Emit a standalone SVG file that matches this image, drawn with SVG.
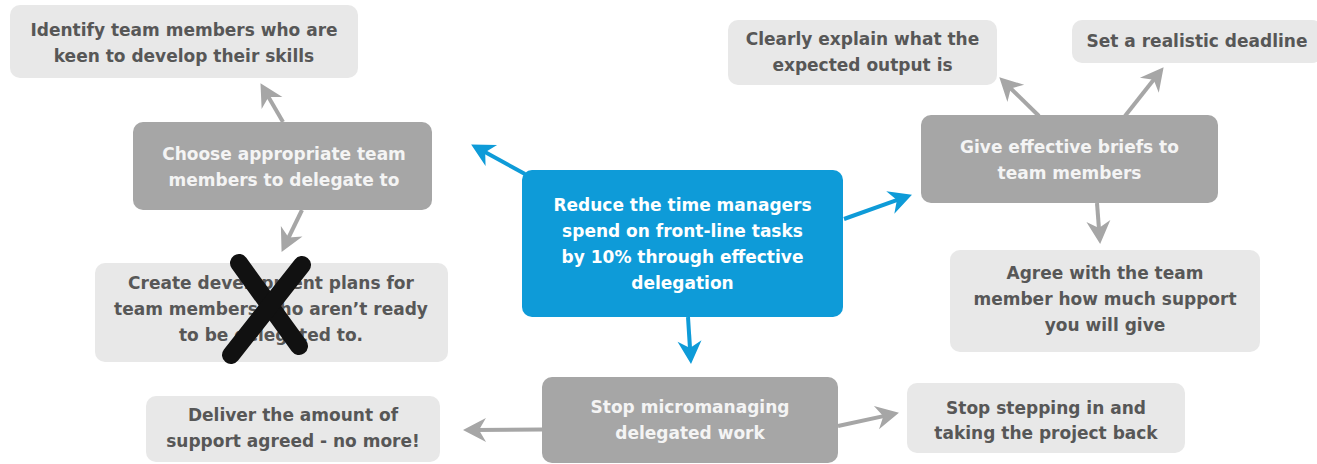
<svg xmlns="http://www.w3.org/2000/svg" width="1317" height="464" viewBox="0 0 1317 464">
  <style>
    .light { fill: #e8e8e8; }
    .dark { fill: #a6a6a6; }
    .main { fill: #0e9bd8; }
    text { font-family: "DejaVu Sans", "Liberation Sans", sans-serif; font-size: 17px; font-weight: bold; text-anchor: middle; }
    .light-t { fill: #575757; }
    .dark-t { fill: #f4f4f4; }
    .main-t { fill: #ffffff; }
    .con { fill: none; stroke-width: 4; }
    .con-gray { stroke: #a6a6a6; marker-end: url(#head-gray); }
    .con-blue { stroke: #0e9bd8; marker-end: url(#head-blue); }
    .cross { stroke: #111111; stroke-width: 18; stroke-linecap: round; fill: none; }
  </style>
  <defs>
    <marker id="head-gray" viewBox="-14 -14 28 28" refX="0" refY="0" markerWidth="28" markerHeight="28" markerUnits="userSpaceOnUse" orient="auto">
      <path d="M11,0 L-12,-12 L-5,0 L-12,12 Z" fill="#a6a6a6"/>
    </marker>
    <marker id="head-blue" viewBox="-14 -14 28 28" refX="0" refY="0" markerWidth="28" markerHeight="28" markerUnits="userSpaceOnUse" orient="auto">
      <path d="M11,0 L-12,-12 L-5,0 L-12,12 Z" fill="#0e9bd8"/>
    </marker>
  </defs>

  <rect width="1317" height="464" fill="#ffffff"/>

  <!-- connectors -->
  <g id="connectors">
    <line class="con con-gray" x1="283" y1="122" x2="266" y2="92.7"/>
    <line class="con con-gray" x1="302" y1="210" x2="286.4" y2="242"/>
    <line class="con con-blue" x1="525" y1="174" x2="480.8" y2="149.8"/>
    <line class="con con-blue" x1="844" y1="219" x2="901.6" y2="198.4"/>
    <line class="con con-blue" x1="688" y1="317" x2="690.3" y2="353"/>
    <line class="con con-gray" x1="1039" y1="116" x2="1007.2" y2="85"/>
    <line class="con con-gray" x1="1125" y1="116" x2="1156.8" y2="75.8"/>
    <line class="con con-gray" x1="1097" y1="203" x2="1099.3" y2="233"/>
    <line class="con con-gray" x1="542" y1="429.5" x2="474" y2="430"/>
    <line class="con con-gray" x1="838" y1="426" x2="888.2" y2="415.1"/>
  </g>

  <!-- nodes -->
  <g id="identify">
    <rect class="light" x="10" y="5" width="348" height="73" rx="10"/>
    <text class="light-t" x="184" y="36">Identify team members who are</text>
    <text class="light-t" x="184" y="62">keen to develop their skills</text>
  </g>

  <g id="choose">
    <rect class="dark" x="133" y="122" width="299" height="88" rx="10"/>
    <text class="dark-t" x="284" y="160">Choose appropriate team</text>
    <text class="dark-t" x="284" y="186">members to delegate to</text>
  </g>

  <g id="create">
    <rect class="light" x="95" y="263" width="353" height="99" rx="10"/>
    <text class="light-t" x="271" y="289">Create development plans for</text>
    <text class="light-t" x="271" y="315">team members who aren’t ready</text>
    <text class="light-t" x="271" y="341">to be delegated to.</text>
    <line class="cross" x1="239" y1="263" x2="299" y2="346"/>
    <line class="cross" x1="302" y1="265" x2="231" y2="355"/>
  </g>

  <g id="goal">
    <rect class="main" x="522" y="170" width="321" height="147" rx="10"/>
    <text class="main-t" x="682.5" y="211">Reduce the time managers</text>
    <text class="main-t" x="682.5" y="237">spend on front-line tasks</text>
    <text class="main-t" x="682.5" y="263">by 10% through effective</text>
    <text class="main-t" x="682.5" y="289">delegation</text>
  </g>

  <g id="explain">
    <rect class="light" x="728" y="20" width="269" height="65" rx="10"/>
    <text class="light-t" x="862.5" y="45">Clearly explain what the</text>
    <text class="light-t" x="862.5" y="71">expected output is</text>
  </g>

  <g id="deadline">
    <rect class="light" x="1072" y="20" width="250" height="43" rx="10"/>
    <text class="light-t" x="1197" y="47">Set a realistic deadline</text>
  </g>

  <g id="briefs">
    <rect class="dark" x="921" y="115" width="297" height="88" rx="10"/>
    <text class="dark-t" x="1069.5" y="153">Give effective briefs to</text>
    <text class="dark-t" x="1069.5" y="179">team members</text>
  </g>

  <g id="agree">
    <rect class="light" x="950" y="250" width="310" height="102" rx="10"/>
    <text class="light-t" x="1105" y="279">Agree with the team</text>
    <text class="light-t" x="1105" y="305">member how much support</text>
    <text class="light-t" x="1105" y="331">you will give</text>
  </g>

  <g id="micromanaging">
    <rect class="dark" x="542" y="377" width="296" height="86" rx="10"/>
    <text class="dark-t" x="690" y="413">Stop micromanaging</text>
    <text class="dark-t" x="690" y="439">delegated work</text>
  </g>

  <g id="deliver">
    <rect class="light" x="146" y="396" width="294" height="66" rx="10"/>
    <text class="light-t" x="293" y="421">Deliver the amount of</text>
    <text class="light-t" x="293" y="447">support agreed - no more!</text>
  </g>

  <g id="stepping">
    <rect class="light" x="907" y="383" width="278" height="70" rx="10"/>
    <text class="light-t" x="1046" y="414">Stop stepping in and</text>
    <text class="light-t" x="1046" y="439">taking the project back</text>
  </g>
</svg>
